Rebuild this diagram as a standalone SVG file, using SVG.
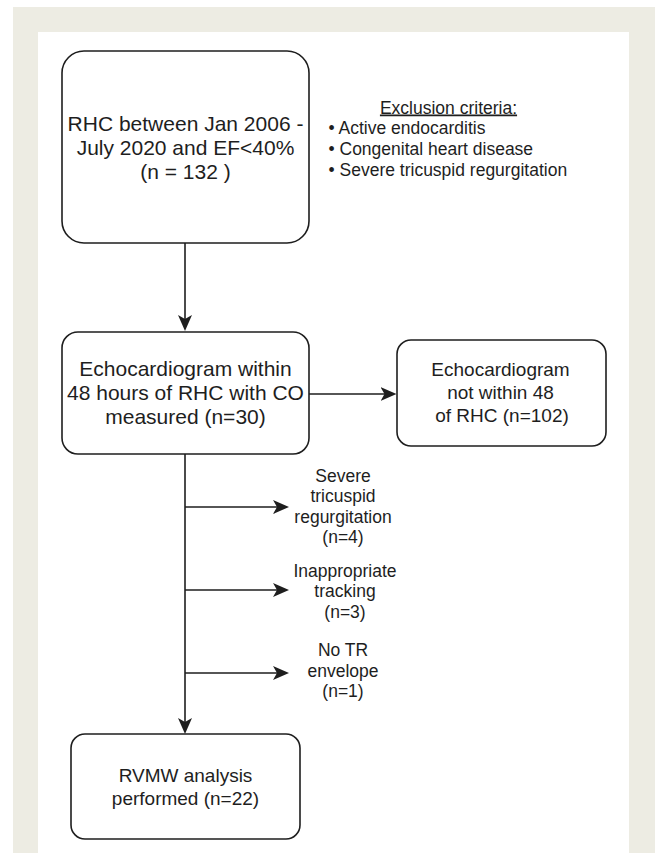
<svg xmlns="http://www.w3.org/2000/svg" width="655" height="853" viewBox="0 0 655 853">
  <style>
    .box { fill: #ffffff; stroke: #1e1e1e; stroke-width: 1.6; }
    .conn { fill: none; stroke: #1e1e1e; stroke-width: 1.6; }
    .t { font-family: "Liberation Sans", Arial, sans-serif; fill: #1e1e1e; }
    .big { font-size: 21px; text-anchor: middle; }
    .mid { font-size: 19px; text-anchor: middle; }
    .small { font-size: 17.5px; }
    .c { text-anchor: middle; }
  </style>
  <defs>
    <marker id="arrow" markerUnits="userSpaceOnUse" viewBox="0 0 16 14" markerWidth="16" markerHeight="14" refX="12" refY="7" orient="auto">
      <path d="M0,0 L16,7 L0,14 L4,7 Z" fill="#1e1e1e"/>
    </marker>
  </defs>

  <rect x="0" y="0" width="655" height="853" fill="#ffffff"/>
  <rect x="13" y="7" width="642" height="846" fill="#edece3"/>
  <rect x="38" y="32" width="591" height="821" fill="#ffffff"/>

  <g id="connectors">
    <path class="conn" d="M185,243 V327" marker-end="url(#arrow)"/>
    <path class="conn" d="M309,394 H392.5" marker-end="url(#arrow)"/>
    <path class="conn" d="M185,454 V730" marker-end="url(#arrow)"/>
    <path class="conn" d="M185,507 H285" marker-end="url(#arrow)"/>
    <path class="conn" d="M185,590 H285" marker-end="url(#arrow)"/>
    <path class="conn" d="M185,673 H285" marker-end="url(#arrow)"/>
  </g>

  <g id="node-rhc">
    <rect class="box" x="62" y="51" width="247" height="192" rx="22" ry="22"/>
    <text class="t big" x="185.5" y="131">RHC between Jan 2006 -</text>
    <text class="t big" x="185.5" y="155">July 2020 and EF&lt;40%</text>
    <text class="t big" x="185.5" y="179">(n = 132 )</text>
  </g>

  <g id="exclusion-criteria">
    <text class="t small c" x="448.5" y="113.5" text-decoration="underline">Exclusion criteria:</text>
    <text class="t small" x="328.5" y="133.5">• Active endocarditis</text>
    <text class="t small" x="328.5" y="154.5">• Congenital heart disease</text>
    <text class="t small" x="328.5" y="175.5">• Severe tricuspid regurgitation</text>
  </g>

  <g id="node-echo-within">
    <rect class="box" x="62" y="332" width="247" height="122" rx="16" ry="16"/>
    <text class="t big" x="185.5" y="376">Echocardiogram within</text>
    <text class="t big" x="185.5" y="400">48 hours of RHC with CO</text>
    <text class="t big" x="185.5" y="424">measured (n=30)</text>
  </g>

  <g id="node-echo-not-within">
    <rect class="box" x="397" y="340" width="209" height="106" rx="14" ry="14"/>
    <text class="t mid" x="500.5" y="376">Echocardiogram</text>
    <text class="t mid" x="500.5" y="399">not within 48</text>
    <text class="t mid" x="502" y="422">of RHC (n=102)</text>
  </g>

  <g id="label-severe-tr">
    <text class="t small c" x="343" y="481.5">Severe</text>
    <text class="t small c" x="343" y="502">tricuspid</text>
    <text class="t small c" x="343" y="522.5">regurgitation</text>
    <text class="t small c" x="343" y="543">(n=4)</text>
  </g>

  <g id="label-tracking">
    <text class="t small c" x="345" y="576.5">Inappropriate</text>
    <text class="t small c" x="345" y="597">tracking</text>
    <text class="t small c" x="345" y="617.5">(n=3)</text>
  </g>

  <g id="label-no-tr">
    <text class="t small c" x="343" y="656">No TR</text>
    <text class="t small c" x="343" y="676.5">envelope</text>
    <text class="t small c" x="343" y="697">(n=1)</text>
  </g>

  <g id="node-rvmw">
    <rect class="box" x="71" y="734" width="229" height="105" rx="14" ry="14"/>
    <text class="t mid" x="185.5" y="782">RVMW analysis</text>
    <text class="t mid" x="185.5" y="805">performed (n=22)</text>
  </g>
</svg>
